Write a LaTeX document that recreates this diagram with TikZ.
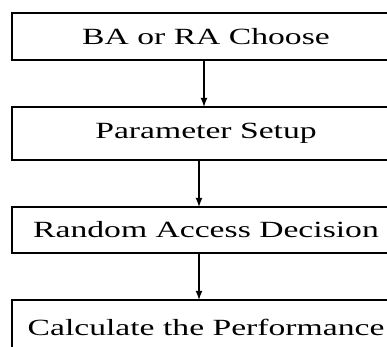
\documentclass[tikz,border=0pt]{standalone}
\usepackage{fontspec}
\setmainfont{Liberation Serif}
\usepackage{tikz}
\usetikzlibrary{arrows}

\newcommand{\widetext}[1]{\scalebox{1.45}[1]{#1}}

\begin{document}
\begin{tikzpicture}[stepbox/.style={draw,line width=1pt,inner sep=0pt,outer sep=0pt,minimum width=7.76cm,font=\fontsize{13.2}{15}\selectfont}]
\useasboundingbox (0,0) rectangle (7.74,6.94);
\clip (0,0) rectangle (7.74,6.94);

\node[stepbox,minimum height=.94cm] (choose) at (4.12,6.21) {\widetext{BA or RA Choose}};
\node[stepbox,minimum height=1.06cm] (setup) at (4.12,4.27) {\widetext{Parameter Setup}};
\node[stepbox,minimum height=.92cm] (decide) at (4.12,2.34) {\widetext{Random Access Decision}};
\node[stepbox,minimum height=1.1cm] (perf) at (4.12,.39) {\widetext{Calculate the Performance}};

\draw[-latex,line width=.8pt] ([xshift=-.04cm]choose.south) -- ([xshift=-.04cm]setup.north);
\draw[-latex,line width=.8pt] ([xshift=-.14cm]setup.south) -- ([xshift=-.14cm]decide.north);
\draw[-latex,line width=.8pt] ([xshift=-.14cm]decide.south) -- ([xshift=-.14cm]perf.north);

\end{tikzpicture}
\end{document}
